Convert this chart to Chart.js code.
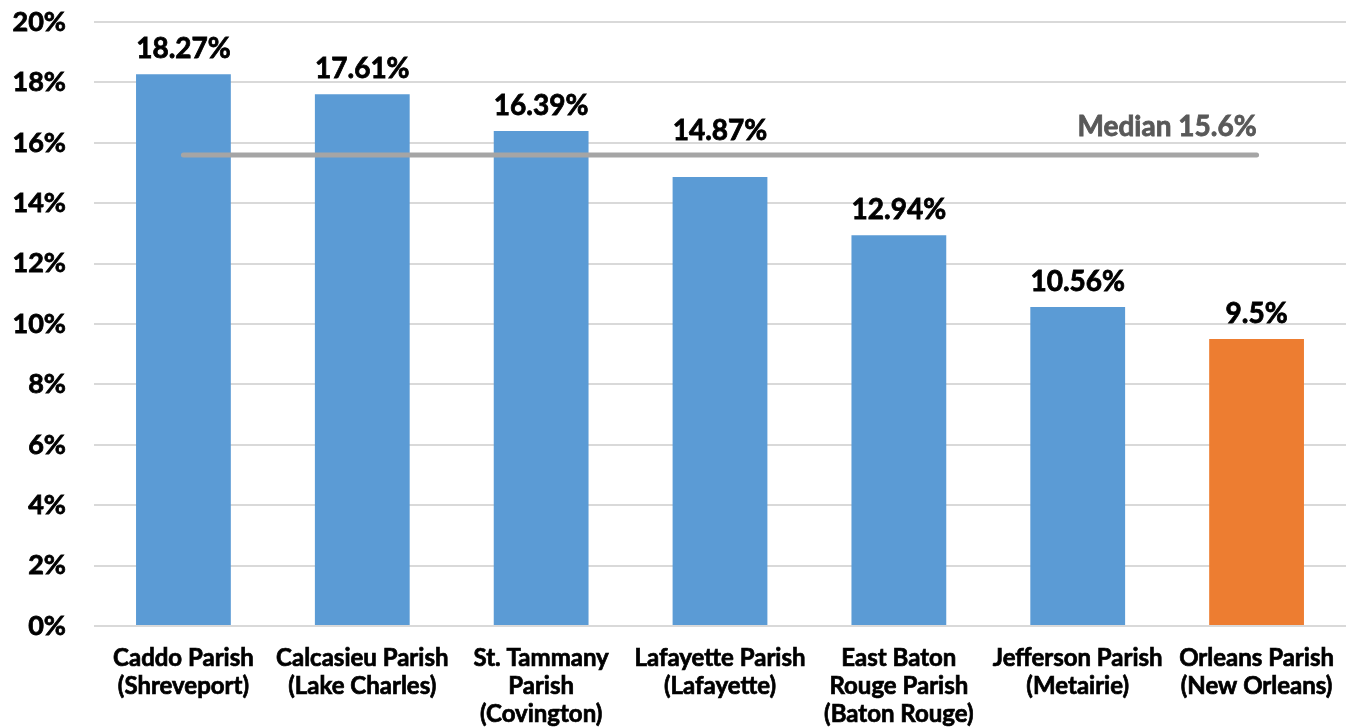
<!DOCTYPE html>
<html lang="en">
<head>
    <meta charset="UTF-8">
    <title>Parish Rates</title>
    <script src="https://cdn.jsdelivr.net/npm/chart.js"></script>
    <style>
        html, body {
            margin: 0;
            padding: 0;
            background: #ffffff;
        }
        #wrap {
            width: 1348px;
            height: 728px;
        }
    </style>
</head>
<body>
    <div id="wrap"><canvas id="rateChart"></canvas></div>

    <script>
        const parishes = [
            ["Caddo Parish", "(Shreveport)"],
            ["Calcasieu Parish", "(Lake Charles)"],
            ["St. Tammany", "Parish", "(Covington)"],
            ["Lafayette Parish", "(Lafayette)"],
            ["East Baton", "Rouge Parish", "(Baton Rouge)"],
            ["Jefferson Parish", "(Metairie)"],
            ["Orleans Parish", "(New Orleans)"]
        ];
        const rates = [18.27, 17.61, 16.39, 14.87, 12.94, 10.56, 9.5];
        const rateLabels = ["18.27%", "17.61%", "16.39%", "14.87%", "12.94%", "10.56%", "9.5%"];
        const median = 15.6;
        const medianLabel = "Median 15.6%";
        const yTicks = [0, 2, 4, 6, 8, 10, 12, 14, 16, 18, 20];

        const blue = '#5B9BD5';
        const orange = '#ED7D31';
        const barColors = parishes.map((p, i) => i === parishes.length - 1 ? orange : blue);
        const fontFamily = 'Lato, "Open Sans", sans-serif';

        // value labels above bars + the median caption
        const labelPlugin = {
            id: 'barLabels',
            afterDatasetsDraw(chart) {
                const ctx = chart.ctx;
                const line = chart.getDatasetMeta(0).data;
                const lineY = line[0].y;
                ctx.save();
                ctx.font = 'bold 28px ' + fontFamily;
                ctx.lineWidth = 0.8;
                ctx.textAlign = 'center';
                ctx.textBaseline = 'alphabetic';
                ctx.fillStyle = '#000000';
                ctx.strokeStyle = '#000000';
                const bars = chart.getDatasetMeta(1).data;
                bars.forEach((bar, i) => {
                    let y = bar.y - 16;
                    // a label that would sit on the median line goes above it
                    if (y > lineY - 15 && y - 22 < lineY + 4) {
                        y = lineY - 15;
                    }
                    ctx.fillText(rateLabels[i], bar.x, y);
                    ctx.strokeText(rateLabels[i], bar.x, y);
                });

                const last = line[line.length - 1];
                ctx.fillStyle = '#595959';
                ctx.strokeStyle = '#595959';
                ctx.textAlign = 'right';
                ctx.fillText(medianLabel, last.x, last.y - 19);
                ctx.strokeText(medianLabel, last.x, last.y - 19);
                ctx.restore();
            }
        };

        const ctx = document.getElementById('rateChart').getContext('2d');
        new Chart(ctx, {
            data: {
                labels: parishes,
                datasets: [{
                    type: 'line',
                    label: 'Median',
                    data: parishes.map(() => median),
                    borderColor: '#A5A5A5',
                    borderWidth: 5,
                    borderCapStyle: 'round',
                    pointRadius: 0,
                    fill: false,
                    order: 0
                }, {
                    type: 'bar',
                    label: 'Rate',
                    data: rates,
                    backgroundColor: barColors,
                    borderWidth: 0,
                    barPercentage: 0.53,
                    categoryPercentage: 1.0,
                    order: 1
                }]
            },
            options: {
                responsive: true,
                maintainAspectRatio: false,
                animation: false,
                layout: {
                    padding: { top: 22, right: 2, left: 0, bottom: 0 }
                },
                plugins: {
                    legend: { display: false },
                    tooltip: { enabled: false }
                },
                scales: {
                    x: {
                        grid: { display: false },
                        border: { display: false },
                        ticks: {
                            color: '#000000',
                            font: { family: fontFamily, size: 24, weight: 'bold', lineHeight: 1.17 },
                            textStrokeColor: '#000000',
                            textStrokeWidth: 0.7,
                            maxRotation: 0,
                            autoSkip: false,
                            padding: 10
                        },
                        afterFit(scale) {
                            scale.height = 102;
                            scale.paddingLeft = 0;
                            scale.paddingRight = 0;
                        }
                    },
                    y: {
                        min: 0,
                        max: 20,
                        afterBuildTicks(scale) {
                            scale.ticks = yTicks.map(v => ({ value: v }));
                        },
                        grid: {
                            color: '#D9D9D9',
                            lineWidth: 2,
                            drawTicks: false
                        },
                        border: { display: false },
                        ticks: {
                            color: '#000000',
                            font: { family: fontFamily, size: 27, weight: 'bold' },
                            textStrokeColor: '#000000',
                            textStrokeWidth: 0.8,
                            padding: 28,
                            callback: v => v + '%'
                        },
                        afterFit(scale) {
                            scale.width = 94;
                            scale.paddingTop = 0;
                            scale.paddingBottom = 0;
                        }
                    }
                }
            },
            plugins: [labelPlugin]
        });
    </script>
</body>
</html>
